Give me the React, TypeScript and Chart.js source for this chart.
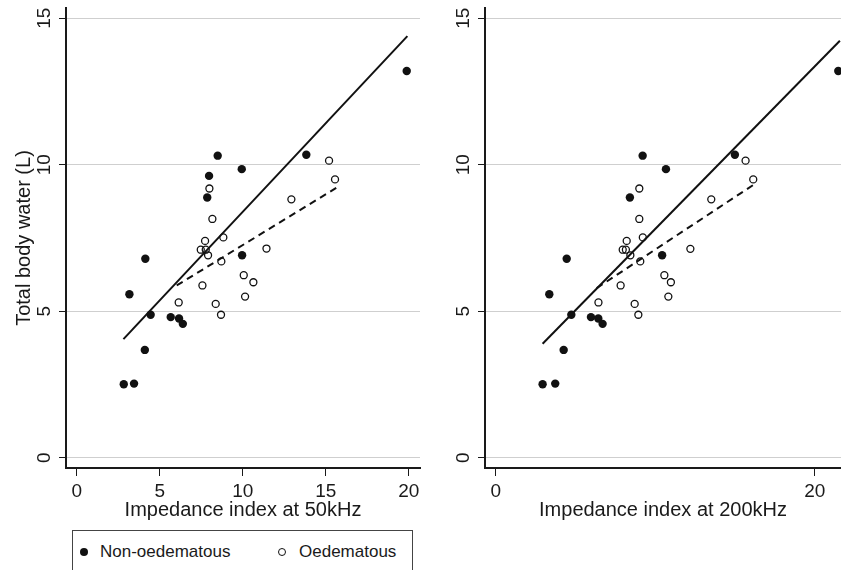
import React, { useEffect, useRef } from "react";
import Chart from "chart.js/auto";

// ---- tick labels ----
const Y_TICKS = [0, 5, 10, 15];
const X_TICKS_50 = [0, 5, 10, 15, 20];
const X_TICKS_200 = [0, 20];

// ---- 50 kHz panel ----
const NON_OED_X50 = [2.83, 3.45, 3.17, 4.1, 4.13, 4.45, 5.66, 6.16, 6.39, 7.86, 7.97, 8.49, 9.94, 9.96, 13.83, 19.88];
const NON_OED_Y50 = [2.51, 2.53, 5.58, 3.68, 6.79, 4.88, 4.8, 4.75, 4.57, 8.88, 9.62, 10.31, 9.85, 6.91, 10.34, 13.2];
const OED_X50 = [6.14, 7.47, 7.77, 7.91, 7.73, 7.99, 8.17, 8.83, 8.71, 7.57, 8.37, 8.69, 10.06, 10.14, 10.64, 11.43, 12.93, 15.2, 15.56];
const OED_Y50 = [5.3, 7.1, 7.1, 6.91, 7.4, 9.19, 8.15, 7.52, 6.7, 5.88, 5.25, 4.88, 6.23, 5.5, 5.99, 7.14, 8.82, 10.14, 9.5];
const FIT_ALL_X50 = [2.81, 19.92];
const FIT_ALL_Y50 = [4.05, 14.39];
const FIT_OED_X50 = [6.02, 15.66];
const FIT_OED_Y50 = [5.88, 9.22];

// ---- 200 kHz panel ----
const NON_OED_X200 = [2.94, 3.73, 3.36, 4.26, 4.45, 4.74, 5.97, 6.43, 6.7, 8.41, 9.21, 10.67, 10.43, 14.99, 21.47];
const NON_OED_Y200 = [2.51, 2.53, 5.58, 3.68, 6.79, 4.88, 4.8, 4.75, 4.57, 8.88, 10.31, 9.85, 6.91, 10.34, 13.2];
const OED_X200 = [6.44, 7.96, 8.16, 8.44, 8.21, 9.0, 9.0, 9.22, 9.06, 7.83, 8.71, 8.94, 10.57, 10.82, 10.98, 12.2, 13.51, 15.66, 16.14];
const OED_Y200 = [5.3, 7.1, 7.1, 6.91, 7.4, 9.19, 8.15, 7.52, 6.7, 5.88, 5.25, 4.88, 6.23, 5.5, 5.99, 7.13, 8.82, 10.14, 9.5];
const FIT_ALL_X200 = [2.94, 21.57];
const FIT_ALL_Y200 = [3.89, 14.23];
const FIT_OED_X200 = [6.33, 16.14];
const FIT_OED_Y200 = [5.79, 9.31];

const FONT = '"Liberation Sans", Arial, Helvetica, sans-serif';
const INK = "#1a1a1a";

const zip = (xs: number[], ys: number[]) => xs.map((x, i) => ({ x, y: ys[i] }));

type PanelCfg = {
  nonX: number[]; nonY: number[]; oedX: number[]; oedY: number[];
  fitAX: number[]; fitAY: number[]; fitOX: number[]; fitOY: number[];
  xTicks: number[]; xMin: number; xMax: number; xTitle: string;
  yTitle: string | null; yWidth: number; padRight: number;
};

function buildConfig(p: PanelCfg): any {
  return {
    type: "scatter",
    data: {
      datasets: [
        {
          data: zip(p.fitAX, p.fitAY),
          showLine: true,
          pointRadius: 0,
          borderColor: "#111",
          borderWidth: 2,
        },
        {
          data: zip(p.fitOX, p.fitOY),
          showLine: true,
          pointRadius: 0,
          borderColor: "#111",
          borderWidth: 2,
          borderDash: [7, 5],
        },
        {
          data: zip(p.nonX, p.nonY),
          pointRadius: 4.2,
          pointBackgroundColor: "#111",
          pointBorderColor: "#111",
          pointBorderWidth: 0,
          clip: false,
        },
        {
          data: zip(p.oedX, p.oedY),
          pointRadius: 3.5,
          pointBackgroundColor: "rgba(0,0,0,0)",
          pointBorderColor: "#111",
          pointBorderWidth: 1.3,
          clip: false,
        },
      ],
    },
    options: {
      responsive: false,
      animation: false,
      events: [],
      layout: { autoPadding: false, padding: { top: 8, right: p.padRight, left: 0, bottom: 0 } },
      plugins: { legend: { display: false }, tooltip: { enabled: false } },
      scales: {
        x: {
          type: "linear",
          min: p.xMin,
          max: p.xMax,
          afterBuildTicks: (s: any) => { s.ticks = p.xTicks.map((v) => ({ value: v })); },
          afterFit: (s: any) => { s.height = 62; s.paddingLeft = 0; s.paddingRight = 0; },
          ticks: { font: { family: FONT, size: 19 }, color: INK, padding: 4, maxRotation: 0, autoSkip: false },
          grid: { drawOnChartArea: false, tickColor: INK, tickLength: 8, tickWidth: 1 },
          border: { color: INK, width: 2 },
          title: { display: true, text: p.xTitle, color: INK, font: { family: FONT, size: 20 }, padding: { top: 0, bottom: 8 } },
        },
        y: {
          type: "linear",
          min: -0.35,
          max: 15.35,
          afterBuildTicks: (s: any) => { s.ticks = Y_TICKS.map((v) => ({ value: v })); },
          afterFit: (s: any) => { s.width = p.yWidth; s.paddingTop = 0; s.paddingBottom = 0; },
          ticks: { font: { family: FONT, size: 19 }, color: INK, padding: 4, minRotation: 90, maxRotation: 90, crossAlign: "center", autoSkip: false },
          grid: { color: "#cfcfcf", lineWidth: 1, tickColor: INK, tickLength: 7, tickWidth: 1 },
          border: { color: INK, width: 2 },
          title: { display: !!p.yTitle, text: p.yTitle || "", color: INK, font: { family: FONT, size: 20 }, padding: { top: 12, bottom: 0 } },
        },
      },
    },
  };
}

function Panel(props: { cfg: PanelCfg; left: number; width: number; height: number }) {
  const ref = useRef<HTMLCanvasElement | null>(null);
  useEffect(() => {
    if (!ref.current) return;
    const chart = new Chart(ref.current, buildConfig(props.cfg));
    return () => chart.destroy();
  }, []);
  return (
    <canvas
      ref={ref}
      width={props.width}
      height={props.height}
      style={{ position: "absolute", left: props.left, top: 0, width: props.width, height: props.height, display: "block" }}
    />
  );
}

const LEFT: PanelCfg = {
  nonX: NON_OED_X50, nonY: NON_OED_Y50, oedX: OED_X50, oedY: OED_Y50,
  fitAX: FIT_ALL_X50, fitAY: FIT_ALL_Y50, fitOX: FIT_OED_X50, fitOY: FIT_OED_Y50,
  xTicks: X_TICKS_50, xMin: -0.65, xMax: 20.68, xTitle: "Impedance index at 50kHz",
  yTitle: "Total body water (L)", yWidth: 66, padRight: 10,
};
const RIGHT: PanelCfg = {
  nonX: NON_OED_X200, nonY: NON_OED_Y200, oedX: OED_X200, oedY: OED_Y200,
  fitAX: FIT_ALL_X200, fitAY: FIT_ALL_Y200, fitOX: FIT_OED_X200, fitOY: FIT_OED_Y200,
  xTicks: X_TICKS_200, xMin: -0.67, xMax: 21.64, xTitle: "Impedance index at 200kHz",
  yTitle: null, yWidth: 55, padRight: 0,
};

export default function App() {
  const txt: React.CSSProperties = { position: "absolute", top: 11, font: `17px ${FONT}`, lineHeight: "20px", color: INK, whiteSpace: "nowrap" };
  return (
    <div style={{ position: "fixed", left: 0, top: 0, width: 841, height: 570, overflow: "hidden", background: "#fff" }}>
      <Panel cfg={LEFT} left={0} width={430} height={530} />
      <Panel cfg={RIGHT} left={430} width={411} height={530} />
      <div style={{ position: "absolute", left: 72, top: 530, width: 341, height: 60, border: "1px solid #444", boxSizing: "border-box", background: "#fff" }}>
        <div style={{ position: "absolute", left: 7, top: 17, width: 8, height: 8, borderRadius: "50%", background: "#111" }} />
        <div style={{ ...txt, left: 27 }}>Non-oedematous</div>
        <div style={{ position: "absolute", left: 205, top: 17, width: 8, height: 8, borderRadius: "50%", border: "1.3px solid #111", boxSizing: "border-box" }} />
        <div style={{ ...txt, left: 226 }}>Oedematous</div>
      </div>
    </div>
  );
}
